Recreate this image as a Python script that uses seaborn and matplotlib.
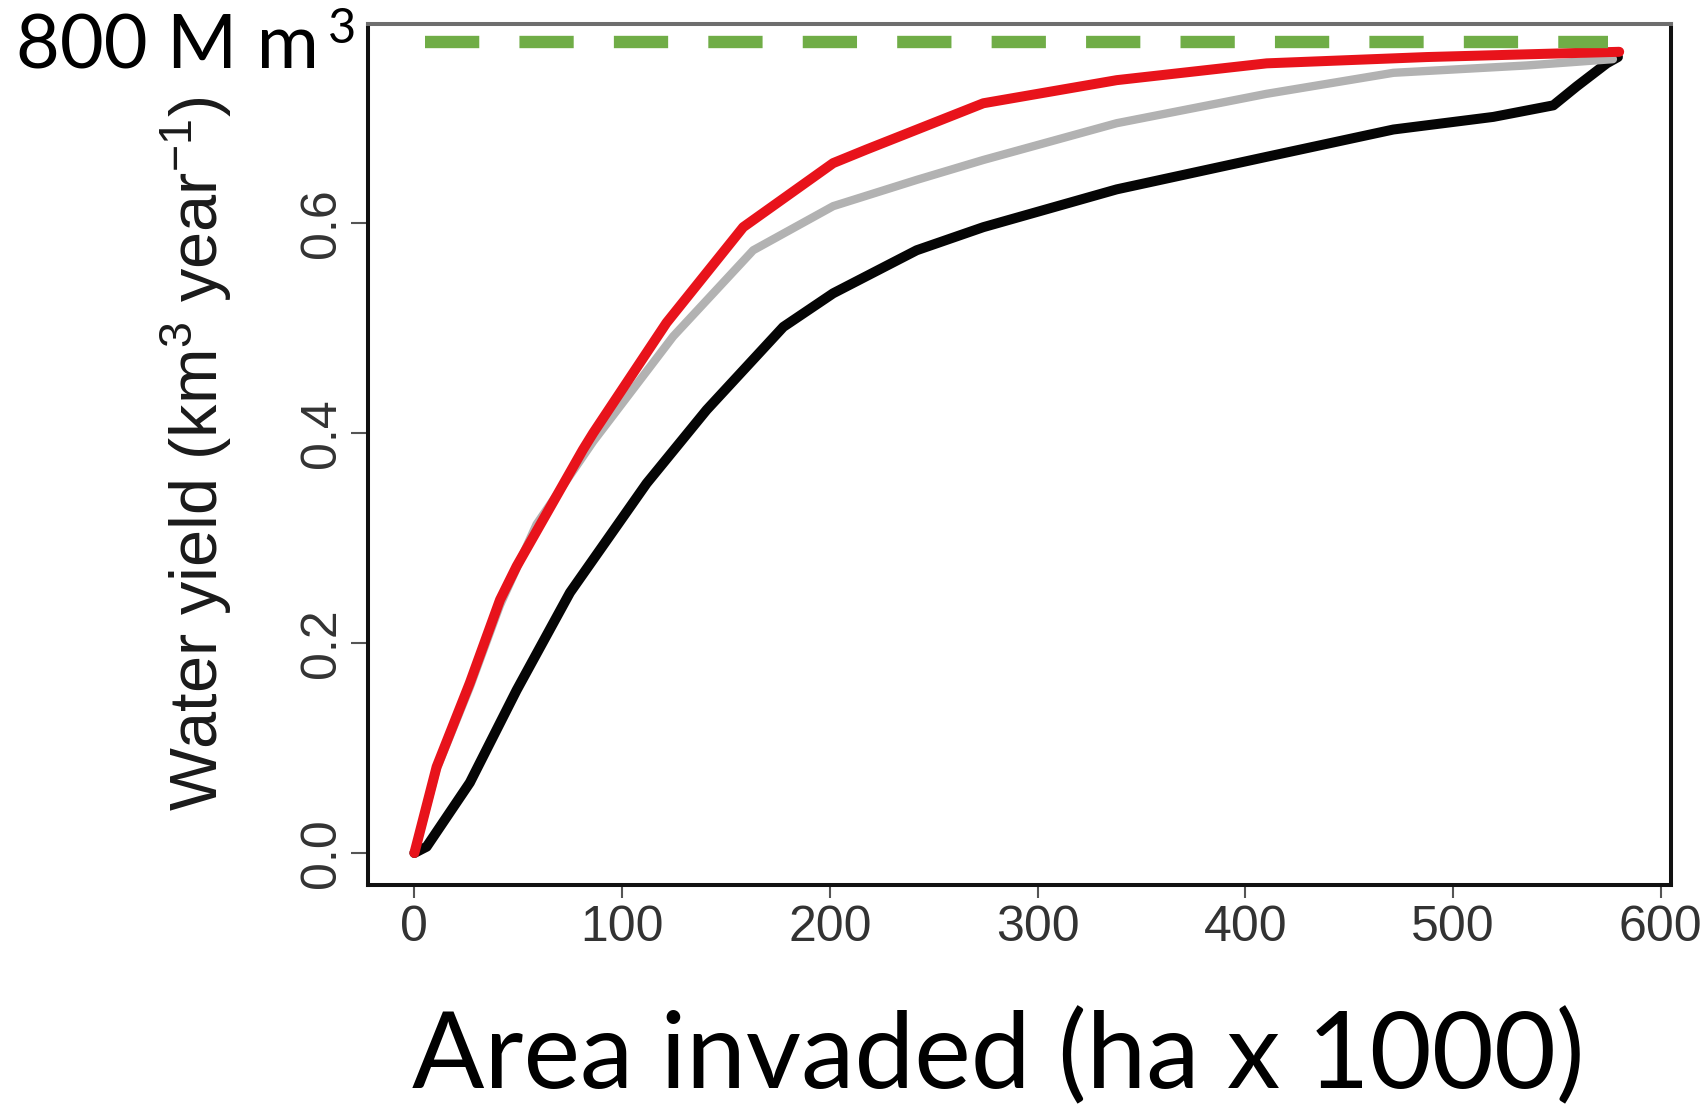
import matplotlib
matplotlib.use("Agg")
import matplotlib.pyplot as plt
import numpy as np
import pandas as pd
import seaborn as sns

# ---- data ----
red_x = [0, 10.7, 26.7, 41.2, 49.2, 81.1, 86.1, 121.4, 158.3, 201.6, 217.7,
         273.9, 338.1, 410.3, 487.3, 580.0]
red_y = [0, 0.082, 0.162, 0.241, 0.273, 0.384, 0.400, 0.505, 0.596, 0.657,
         0.670, 0.714, 0.736, 0.752, 0.758, 0.763]

gray_x = [0, 10.7, 26.7, 41.2, 58.8, 86.1, 124.6, 163.1, 201.6, 241.8,
          273.9, 338.1, 410.3, 471.3, 535.5, 577.0]
gray_y = [0, 0.080, 0.158, 0.236, 0.313, 0.392, 0.492, 0.574, 0.616, 0.641,
          0.660, 0.695, 0.723, 0.743, 0.750, 0.756]

black_x = [0, 5.9, 26.7, 49.2, 74.9, 111.8, 140.7, 177.6, 201.6, 241.8,
           273.9, 338.1, 410.3, 471.3, 519.4, 548.3, 559.5, 574.0, 579.4]
black_y = [0, 0.006, 0.067, 0.155, 0.248, 0.352, 0.422, 0.501, 0.533, 0.574,
           0.596, 0.632, 0.663, 0.689, 0.701, 0.712, 0.730, 0.752, 0.758]

green_x = [5.3, 574.8]
green_y = [0.772, 0.772]

x_ticks = [0, 100, 200, 300, 400, 500, 600]
x_tick_labels = ["0", "100", "200", "300", "400", "500", "600"]
y_ticks = [0.0, 0.2, 0.4, 0.6]
y_tick_labels = ["0.0", "0.2", "0.4", "0.6"]

top_label = "800 M m"
top_label_sup = "3"
y_label = r"Water yield (km$^{3}$ year$^{-1}$)"
x_label = "Area invaded (ha x 1000)"

# ---- style ----
sns.set_style("white")
plt.rcParams["font.family"] = ["Liberation Sans", "DejaVu Sans"]
plt.rcParams["mathtext.fontset"] = "custom"
plt.rcParams["mathtext.rm"] = "Liberation Sans"
plt.rcParams["mathtext.it"] = "Liberation Sans:italic"
plt.rcParams["mathtext.bf"] = "Liberation Sans:bold"

fig = plt.figure(figsize=(17.06, 11.11), dpi=100)
fig.patch.set_facecolor("white")
ax = fig.add_axes([0.2160, 0.2037, 0.7633, 0.7750])
ax.set_facecolor("white")

line_kw = dict(sort=False, estimator=None, solid_capstyle="round",
               solid_joinstyle="round", legend=False)
sns.lineplot(x=black_x, y=black_y, ax=ax, color="#050505", linewidth=7.2, **line_kw)
sns.lineplot(x=gray_x, y=gray_y, ax=ax, color="#b2b2b2", linewidth=6.0, **line_kw)
sns.lineplot(x=red_x, y=red_y, ax=ax, color="#e8131b", linewidth=7.2, **line_kw)
sns.lineplot(x=green_x, y=green_y, ax=ax, color="#70ad47", linewidth=8.9,
             linestyle=(0, (4.39, 3.25)), dash_capstyle="butt",
             sort=False, estimator=None, legend=False)

ax.set_xlim(-22.1, 604.8)
ax.set_ylim(-0.0302, 0.7898)

ax.set_xticks(x_ticks)
ax.set_xticklabels(x_tick_labels)
ax.set_yticks(y_ticks)
ax.set_yticklabels(y_tick_labels)

ax.tick_params(axis="x", which="major", direction="out", length=9.4, width=1.5,
               color="#555555", labelsize=36, labelcolor="#333333", pad=5,
               bottom=True)
ax.tick_params(axis="y", which="major", direction="out", length=12.2, width=1.5,
               color="#555555", labelsize=36, labelcolor="#333333", pad=5,
               left=True, labelrotation=90)
for lab in ax.get_yticklabels():
    lab.set_va("center")

for name, sp in ax.spines.items():
    sp.set_linewidth(2.9)
    sp.set_color("#111111")
ax.spines["top"].set_color("#6e6e6e")

ax.set_xlabel("")
ax.set_ylabel("")

# y-axis label (rotated)
fig.text(218 / 1706, 1 - 453.5 / 1111, y_label, rotation=90,
         rotation_mode="anchor", ha="center", va="baseline",
         fontsize=48, color="#1a1a1a")

# big labels in Lato
fig.text(16 / 1706, 1 - 68.3 / 1111, top_label, fontsize=54.5,
         family=["Lato", "DejaVu Sans"], ha="left", va="baseline", color="black")
fig.text(328 / 1706, 1 - 43.3 / 1111, top_label_sup, fontsize=35,
         family=["Lato", "DejaVu Sans"], ha="left", va="baseline", color="black")
fig.text(998 / 1706, 1 - 1088.3 / 1111, x_label, fontsize=77,
         family=["Lato", "DejaVu Sans"], ha="center", va="baseline", color="black")

fig.savefig("out.png", dpi=100, facecolor="white")
